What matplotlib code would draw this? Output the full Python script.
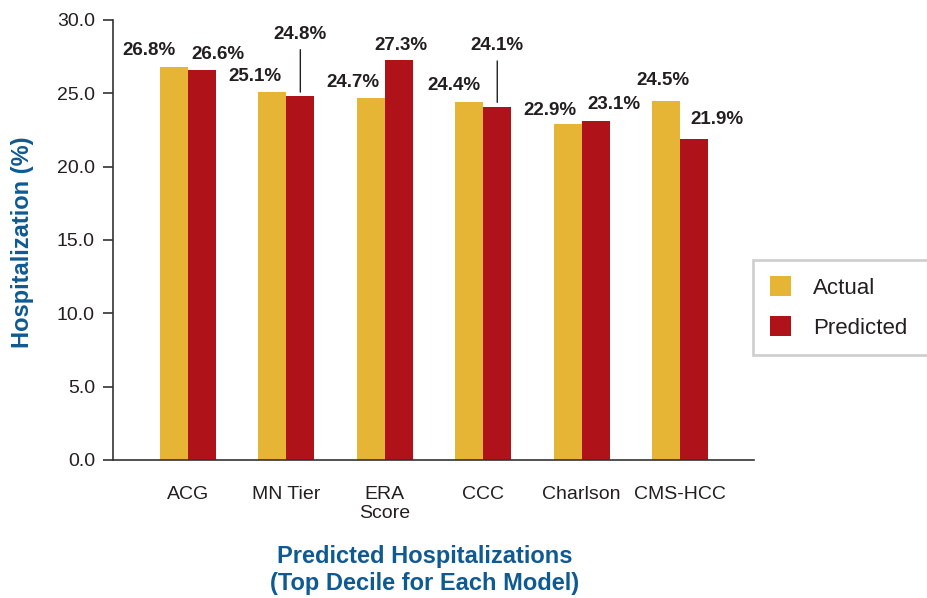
import numpy as np
import matplotlib
matplotlib.use("Agg")
import matplotlib.pyplot as plt

plt.rcParams["font.family"] = ["Liberation Sans", "DejaVu Sans"]

# Data
models = ["ACG", "MN Tier", "ERA\nScore", "CCC", "Charlson", "CMS-HCC"]
actual = [26.8, 25.1, 24.7, 24.4, 22.9, 24.5]
predicted = [26.6, 24.8, 27.3, 24.1, 23.1, 21.9]

# label offsets in pixels (dx, dy) from top of each bar
actual_offsets = [(-25, 16), (-17, 15), (-18, 15), (-15, 17), (-18, 14), (-3, 20)]
pred_offsets = [(16, 15), (0, 62), (2, 14), (0, 61), (18, 17), (23, 19)]
pred_leader = [False, True, False, True, False, False]

yellow = "#e6b535"
red = "#af1219"
blue = "#0f5a92"
dark = "#231f20"

fig = plt.figure(figsize=(9.27, 5.98), dpi=100)
ax = fig.add_axes([113 / 927, 1 - 460 / 598, 641 / 927, 440 / 598])

x = np.arange(len(models))
w = 0.285
b1 = ax.bar(x - w / 2, actual, w, color=yellow, label="Actual")
b2 = ax.bar(x + w / 2, predicted, w, color=red, label="Predicted")

# value labels
for rect, val, (dx, dy) in zip(b1, actual, actual_offsets):
    ax.annotate(f"{val:.1f}%", (rect.get_x() + rect.get_width() / 2, val),
                xytext=(dx, dy), textcoords="offset pixels",
                ha="center", va="center", fontsize=13.5, fontweight="bold",
                color=dark)
for rect, val, (dx, dy), lead in zip(b2, predicted, pred_offsets, pred_leader):
    props = None
    if lead:
        props = dict(arrowstyle="-", color=dark, lw=1.0, shrinkA=3, shrinkB=3)
    ax.annotate(f"{val:.1f}%", (rect.get_x() + rect.get_width() / 2, val),
                xytext=(dx, dy), textcoords="offset pixels",
                ha="center", va="center", fontsize=13.5, fontweight="bold",
                color=dark, arrowprops=props)

# axes styling
ax.set_xlim(-0.76, 5.75)
ax.set_ylim(0, 30)
ax.set_yticks(np.arange(0, 30.1, 5))
ax.set_yticklabels([f"{v:.1f}" for v in np.arange(0, 30.1, 5)])
ax.set_xticks(x)
ax.set_xticklabels(models, linespacing=1.1)

for s in ["top", "right"]:
    ax.spines[s].set_visible(False)
for s in ["left", "bottom"]:
    ax.spines[s].set_color("#333333")
    ax.spines[s].set_linewidth(1.2)

ax.tick_params(axis="y", direction="out", length=7, width=1.2, color="#333333",
               labelsize=14, labelcolor=dark, pad=6)
ax.tick_params(axis="x", length=0, labelsize=14, labelcolor=dark, pad=19)

# axis titles
fig.text(23 / 927, 1 - 242 / 598, "Hospitalization (%)", rotation=90,
         ha="center", va="center", fontsize=17, fontweight="bold", color=blue)
fig.text(425 / 927, 1 - 570 / 598,
         "Predicted Hospitalizations\n(Top Decile for Each Model)",
         ha="center", va="center", fontsize=17, fontweight="bold",
         color=blue, linespacing=1.2)

# legend running off right edge
leg = fig.legend(handles=[b1, b2], labels=["Actual", "Predicted"],
                 loc="center left",
                 bbox_to_anchor=(753 / 927, 1 - 355 / 598, 300 / 927, 95 / 598),
                 mode="expand", borderaxespad=0, fontsize=16,
                 handlelength=0.95, handleheight=0.95, handletextpad=1.0,
                 labelspacing=0.8, borderpad=0.75, fancybox=False,
                 frameon=True)
leg.get_frame().set_edgecolor("#c4c4c4")
leg.get_frame().set_linewidth(2)
for t in leg.get_texts():
    t.set_color(dark)

fig.savefig("out.png", dpi=100)
